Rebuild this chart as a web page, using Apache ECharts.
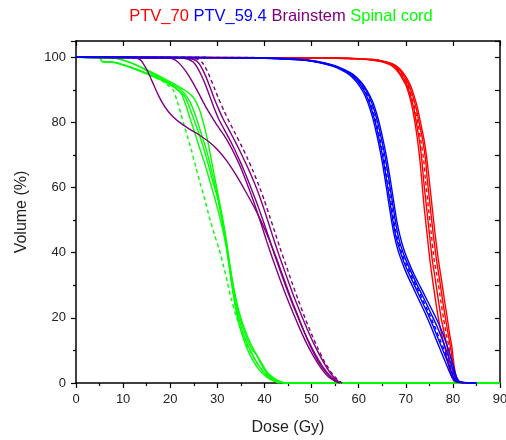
<!DOCTYPE html>
<html>
<head>
<meta charset="utf-8">
<script src="https://cdn.jsdelivr.net/npm/echarts@6/dist/echarts.min.js"></script>
<style>
  html, body { margin: 0; padding: 0; background: #fff; }
  #chart { width: 506px; height: 440px; }
</style>
</head>
<body>
<div id="chart"></div>
<script>
// DVH curves, [dose (Gy), volume (%)]
// Spinal cord
const cordA = [[0,100],[5,100],[5.5,98.8],[8,98.5],[10.5,97.5],[13,96.3],[16,94.6],[19,92.4],[21.5,90.2],[22.5,88.5],[23.5,84.5],[24.5,80],[25.5,75.5],[26.5,71],[27.5,66.5],[28.5,61.5],[29.5,56.5],[30.5,51],[31.3,46],[32,41],[32.6,35],[33.3,28],[34,22],[35,16],[36.2,11],[37.5,7],[39,3.8],[40.5,1.8],[42,0.6],[44,0],[90,0]];
const cordB = [[0,100],[5,100],[5.6,98.6],[8.2,98.4],[10.7,97.3],[14.2,95.4],[17.8,93.2],[20.5,91.2],[23,88.2],[24,85],[25,81],[26,77],[27,72.5],[28,67.5],[29,62],[30,57],[31,50],[31.6,45],[32.2,39],[32.9,32],[33.7,25],[34.7,19],[35.8,14],[37,10],[38.3,6.5],[40,3],[41.5,1.3],[43,0.4],[44.5,0],[90,0]];
const cordC = [[0,100],[8,99.8],[9.5,99.3],[12.2,98],[15,96.2],[18,94],[21,91.7],[23.5,89.5],[25,87.5],[26.2,84],[27.2,79],[28,74],[28.8,68],[29.6,62],[30.4,56],[31.2,50],[31.9,44],[32.5,38],[33.2,31.5],[34.1,25],[35.2,19],[36.5,14],[37.8,10],[39,7],[40.5,3.5],[42,1.5],[43.5,0.4],[45,0],[90,0]];
const cordD = [[0,100],[8.6,99.7],[10,99.2],[12.5,97.8],[15.5,95.5],[18.5,93.2],[21.5,90.8],[23,89],[24.3,86],[25.5,81.5],[26.5,77],[27.5,72.5],[28.4,67.5],[29.3,62],[30.3,56],[31.1,50],[31.8,44],[32.4,38],[33.1,31.5],[33.9,25],[35,19],[36.2,14],[37.3,10.5],[38.4,8.5],[39.2,6],[40.5,3],[42.5,0.6],[44,0],[90,0]];
const cordDash = [[0,100],[5,100],[5.6,98.7],[8.2,98.5],[11,97.3],[14.5,95.2],[18,93],[20.6,90],[21.5,86.5],[22.3,82.5],[23,79],[23.8,75],[24.6,71],[25.5,66],[26.4,61],[27.3,56.5],[28.3,51],[29.4,45.5],[30.4,41],[31.3,36],[32.2,30.5],[33,25.5],[34,20.5],[35.2,15.5],[36.5,11],[38,7],[39.5,4],[41,1.8],[43,0],[90,0]];

// Brainstem
const brainA = [[0,100],[12,100],[13,99.7],[13.8,99],[14.6,97.3],[15.5,94.8],[16.5,91.5],[17.5,88.3],[18.5,85.6],[19.5,83.5],[20.7,81.6],[22,80],[24,78],[26,76.3],[28,74.3],[30,71.7],[32,68.2],[34,63.8],[36,58.8],[38,53.5],[39.5,49],[41,44],[42.5,38.5],[44,32.5],[45.5,26.5],[47,21],[48.5,15.5],[50,10.5],[51.5,6.5],[53,3.5],[54.5,1.2],[56,0]];
const brainB = [[0,100],[19,99.9],[20.5,99.5],[21.5,98.7],[22.5,97.2],[23.5,95.3],[24.5,93],[25.5,90.4],[26.6,87.4],[27.7,84.4],[28.8,81.8],[30,79],[31.3,76.3],[32.6,73.2],[33.8,69.8],[35,66],[36.1,62],[37.2,57.8],[38.3,53.2],[39.4,48.4],[40.5,43.4],[41.7,38.3],[43,33],[44.5,27.2],[46,21.8],[47.5,16.7],[49,12],[50.5,8],[52,4.6],[53.5,2],[55,0.5],[56,0]];
const brainC = [[0,100],[22,99.8],[23.8,99.4],[24.8,98.6],[25.7,97],[26.6,94.5],[27.5,91.5],[28.4,88],[29.3,84.5],[30.3,81],[31.4,78],[32.6,74.8],[33.8,71.3],[35,67.5],[36.3,63],[37.5,58.6],[38.7,54],[39.8,49.5],[40.9,44.8],[42,40],[43.3,34.6],[44.8,28.6],[46.3,23],[47.8,17.8],[49.3,13],[50.8,8.8],[52.3,5.2],[53.8,2.4],[55.2,0.7],[56.5,0]];
const brainD = [[0,100],[23,99.8],[24.8,99.4],[25.8,98.6],[26.6,97],[27.5,94.3],[28.4,91],[29.3,87.5],[30.3,84],[31.4,80.6],[32.6,77.4],[33.9,73.8],[35.2,70],[36.5,66],[37.7,62],[38.9,57.6],[40,53],[41,48.5],[42,44],[43.1,39.2],[44.5,33.5],[46,27.5],[47.5,22],[49,16.8],[50.5,12],[52,7.8],[53.4,4.3],[54.8,1.6],[56,0]];
const brainDash = [[0,100],[24,99.8],[25.8,99.4],[26.8,98.4],[27.6,96.5],[28.4,94],[29.3,90.8],[30.3,87.2],[31.4,83.6],[32.6,80],[33.8,76.6],[35,73.2],[36.3,69.3],[37.6,65],[38.8,60.7],[40,56],[41.1,51.2],[42.2,46.4],[43.3,41.5],[44.5,36.5],[45.8,31],[47.2,25.4],[48.6,20],[50,15],[51.4,10.5],[52.8,6.4],[54.2,3.2],[55.5,1],[56.5,0]];

// PTV_70
const ptv70A = [[0,100],[40,99.9],[55,99.7],[60,99.5],[63,99.1],[65,98.6],[66.5,97.8],[67.6,96.7],[68.5,95.2],[69.3,93.4],[70.1,91.2],[70.8,88],[71.4,84.4],[72,79.5],[72.5,74.5],[73,68.5],[73.4,62],[73.9,54],[74.5,46],[75.1,38],[75.7,31.5],[76.3,25.5],[76.9,20],[77.6,15],[78.3,11],[78.8,7],[79.3,4],[79.8,1.8],[80.3,0.5],[81.5,0.1],[83,0]];
const ptv70B = [[0,100],[40,99.9],[55,99.7],[60,99.5],[63,99.2],[65,98.7],[66.6,97.9],[67.8,96.8],[68.7,95.3],[69.5,93.5],[70.3,91.3],[71,88],[71.7,84.4],[72.3,79.5],[72.9,74.5],[73.4,68.5],[73.8,62],[74.4,54],[75,46],[75.6,38],[76.3,31.5],[76.9,25.5],[77.5,20],[78.2,15],[78.8,11],[79.2,7],[79.6,4],[80,1.8],[80.5,0.5],[81.5,0.1],[83,0]];
const ptv70Dash = [[0,100],[40,99.9],[55,99.7],[60,99.5],[63,99.2],[65,98.7],[66.7,97.9],[67.9,96.8],[68.9,95.3],[69.7,93.5],[70.5,91.3],[71.2,88],[71.9,84.4],[72.6,79.5],[73.2,74.5],[73.8,68.5],[74.2,62],[74.8,54],[75.4,46],[76,38],[76.8,31.5],[77.4,25.5],[78,20],[78.6,15],[79.2,11],[79.6,7],[80,4],[80.3,1.8],[80.7,0.5],[81.8,0.1],[83,0]];
const ptv70C = [[0,100],[40,99.9],[55,99.8],[60,99.6],[63,99.3],[65,98.8],[66.8,98],[68.1,96.9],[69.1,95.4],[69.9,93.6],[70.7,91.3],[71.5,88],[72.2,84.4],[72.9,79.5],[73.6,74.5],[74.2,68.5],[74.6,62],[75.2,54],[75.8,46],[76.5,38],[77.2,31.5],[77.8,25.5],[78.4,20],[79,15],[79.5,11],[79.9,7],[80.2,4],[80.5,1.8],[80.9,0.5],[82,0.1],[83,0]];
const ptv70D = [[0,100],[40,99.9],[55,99.8],[60,99.6],[63,99.3],[65,98.9],[67,98.1],[68.3,97],[69.3,95.5],[70.2,93.6],[71,91.3],[71.8,88],[72.5,84.4],[73.2,79.5],[73.9,74.5],[74.5,68.5],[75,62],[75.6,54],[76.2,46],[76.9,38],[77.6,31.5],[78.2,25.5],[78.8,20],[79.3,15],[79.8,11],[80.1,7],[80.4,4],[80.7,1.8],[81.1,0.5],[82,0.1],[83,0]];

// PTV_59.4
const ptv59A = [[0,100],[30,99.9],[40,99.7],[47.5,99.2],[51,98.5],[54.6,97.2],[56.5,96],[58.1,94.6],[59.6,92.3],[60.9,89.5],[61.9,86.3],[62.7,82.8],[63.4,79],[64.1,74.5],[64.8,69.5],[65.5,63.5],[66.2,57],[66.9,50.5],[67.6,45],[68.4,40.5],[69.3,36.8],[70.3,33.2],[71.5,29.5],[72.8,25.5],[74.1,21.5],[75.3,17.5],[76.4,13.5],[77.4,10],[78.3,6.8],[79.1,4],[79.8,1.8],[80.5,0.6],[81.5,0.1],[85,0]];
const ptv59B = [[0,100],[30,99.9],[40,99.7],[47.5,99.2],[51,98.6],[54.6,97.4],[56.5,96.3],[58.3,94.8],[59.9,92.5],[61.2,89.6],[62.2,86.3],[63,82.8],[63.7,79],[64.4,74.5],[65.1,69.5],[65.8,63.5],[66.5,57],[67.2,50.5],[67.9,45],[68.8,40.5],[69.7,36.8],[70.8,33.2],[72,29.5],[73.3,25.5],[74.6,21.5],[75.8,17.5],[76.9,13.5],[77.9,10],[78.8,6.8],[79.5,4],[80.1,1.8],[80.7,0.6],[82,0.1],[85,0]];
const ptv59Dash = [[0,100],[30,99.9],[40,99.7],[47.5,99.3],[51,98.6],[54.6,97.4],[56.5,96.2],[58.4,94.7],[60,92.4],[61.4,89.5],[62.4,86.3],[63.2,82.8],[63.9,79],[64.6,74.5],[65.3,69.5],[66,63.5],[66.7,57],[67.4,50.5],[68.1,45],[69,40.5],[70,36.8],[71.1,33.2],[72.3,29.5],[73.6,25.5],[74.9,21.5],[76.1,17.5],[77.2,13.5],[78.2,10],[79,6.8],[79.7,4],[80.3,1.8],[80.8,0.6],[82,0.1],[85,0]];
const ptv59C = [[0,100],[30,99.9],[40,99.8],[47.5,99.3],[51,98.7],[54.6,97.5],[56.5,96.4],[58.6,94.8],[60.3,92.5],[61.7,89.5],[62.7,86.3],[63.5,82.8],[64.2,79],[64.9,74.5],[65.6,69.5],[66.3,63.5],[67,57],[67.7,50.5],[68.4,45],[69.3,40.5],[70.3,36.8],[71.4,33.2],[72.6,29.5],[74,25.5],[75.3,21.5],[76.6,17.5],[77.7,13.5],[78.6,10],[79.4,6.8],[80,4],[80.5,1.8],[81,0.6],[82.5,0.1],[85,0]];
const ptv59D = [[0,100],[30,99.9],[40,99.8],[47.5,99.4],[51,98.8],[54.6,97.6],[56.5,96.5],[58.8,94.8],[60.5,92.4],[61.9,89.5],[63,86.3],[63.8,82.8],[64.5,79],[65.2,74.5],[65.9,69.5],[66.6,63.5],[67.3,57],[68,50.5],[68.8,45],[69.7,40.5],[70.7,36.8],[71.8,33.2],[73.1,29.5],[74.5,25.5],[75.9,21.5],[77.2,17.5],[78.3,13.5],[79.1,10],[79.8,6.8],[80.3,4],[80.8,1.8],[81.3,0.6],[83,0.1],[85,0]];

const xTicks = [0, 10, 20, 30, 40, 50, 60, 70, 80, 90];
const yTicks = [0, 20, 40, 60, 80, 100];

const groups = [
  { color: '#00ff00', curves: [cordA, cordB, cordC, cordD], dashed: cordDash },
  { color: '#800080', curves: [brainA, brainB, brainC, brainD], dashed: brainDash },
  { color: '#ff0000', curves: [ptv70A, ptv70B, ptv70C, ptv70D], dashed: ptv70Dash },
  { color: '#0000ff', curves: [ptv59A, ptv59B, ptv59C, ptv59D], dashed: ptv59Dash }
];

const series = [];
groups.forEach(g => {
  g.curves.concat([g.dashed]).forEach(d => {
    series.push({
      type: 'line',
      data: d,
      showSymbol: false,
      smooth: 0.15,
      silent: true,
      clip: true,
      lineStyle: {
        color: g.color,
        width: 1.4,
        type: d === g.dashed ? [4, 3] : 'solid'
      }
    });
  });
});

const font = 'Liberation Sans, Arial, sans-serif';
const chart = echarts.init(document.getElementById('chart'));

chart.setOption({
  animation: false,
  backgroundColor: '#fff',
  textStyle: { fontFamily: font },
  graphic: [{
    type: 'text',
    x: 281,
    y: 16,
    style: {
      text: '{r|PTV_70} {b|PTV_59.4} {p|Brainstem} {g|Spinal cord}',
      align: 'center',
      verticalAlign: 'middle',
      fontFamily: font,
      fontSize: 16.5,
      rich: {
        r: { fill: '#ff0000', fontSize: 16.5, fontFamily: font },
        b: { fill: '#0000ff', fontSize: 16.5, fontFamily: font },
        p: { fill: '#800080', fontSize: 16.5, fontFamily: font },
        g: { fill: '#00ff00', fontSize: 16.5, fontFamily: font }
      }
    }
  }],
  grid: { left: 76, right: 6, top: 41, bottom: 57, outerBoundsMode: 'none', containLabel: false },
  xAxis: [{
    type: 'value',
    min: xTicks[0],
    max: xTicks[xTicks.length - 1],
    interval: 10,
    name: 'Dose (Gy)',
    nameLocation: 'middle',
    nameGap: 37,
    nameTextStyle: { fontSize: 16, color: '#222', fontFamily: font },
    axisLine: { onZero: false, lineStyle: { color: '#000', width: 1.5 } },
    axisTick: { length: 5, lineStyle: { color: '#000', width: 1.2 } },
    minorTick: { show: true, splitNumber: 2, length: 3, lineStyle: { color: '#000', width: 1.2 } },
    axisLabel: { fontSize: 13, color: '#222', margin: 10, fontFamily: font },
    splitLine: { show: false }
  }, {
    type: 'value',
    position: 'top',
    min: xTicks[0],
    max: xTicks[xTicks.length - 1],
    interval: 10,
    axisLine: { onZero: false, lineStyle: { color: '#000', width: 1.5 } },
    axisTick: { inside: true, length: 5, lineStyle: { color: '#000', width: 1.2 } },
    axisLabel: { show: false },
    splitLine: { show: false }
  }],
  yAxis: [{
    type: 'value',
    min: yTicks[0],
    max: 105,
    interval: 20,
    name: 'Volume (%)',
    nameLocation: 'middle',
    nameGap: 46,
    nameTextStyle: { fontSize: 16, color: '#222', fontFamily: font },
    axisLine: { onZero: false, lineStyle: { color: '#000', width: 1.5 } },
    axisTick: { length: 5, lineStyle: { color: '#000', width: 1.2 } },
    minorTick: { show: true, splitNumber: 2, length: 3, lineStyle: { color: '#000', width: 1.2 } },
    axisLabel: {
      fontSize: 13, color: '#222', margin: 10, fontFamily: font,
      formatter: v => (yTicks.indexOf(v) >= 0 ? String(v) : '')
    },
    splitLine: { show: false }
  }, {
    type: 'value',
    position: 'right',
    min: 0,
    max: 105,
    interval: 10,
    axisLine: { onZero: false, lineStyle: { color: '#000', width: 1.5 } },
    axisTick: { inside: true, length: 5, lineStyle: { color: '#000', width: 1.2 } },
    axisLabel: { show: false },
    splitLine: { show: false }
  }],
  series: series
});
</script>
</body>
</html>
